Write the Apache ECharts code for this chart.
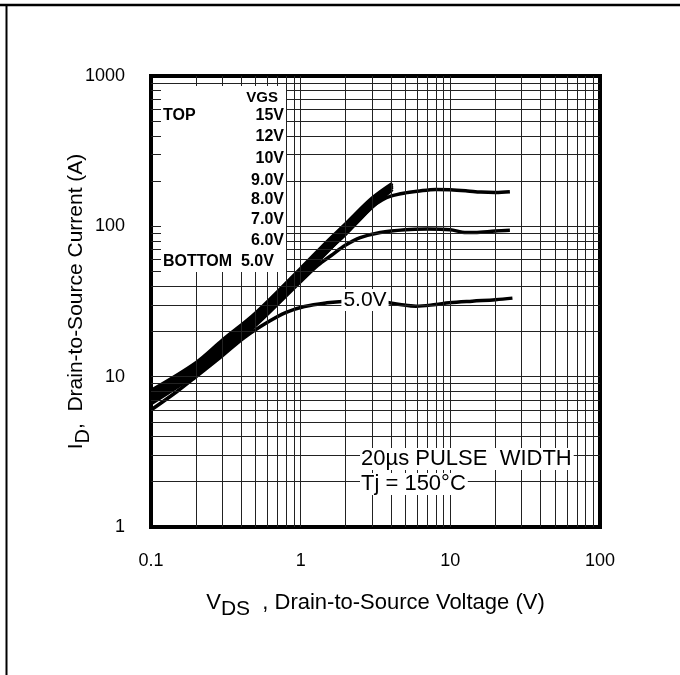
<!DOCTYPE html>
<html><head><meta charset="utf-8">
<script src="https://cdn.jsdelivr.net/npm/echarts@6/dist/echarts.min.js"></script>
<style>html,body{margin:0;padding:0;background:#fff}#c{width:680px;height:675px}</style>
</head><body><div id="c"></div>
<script>
const FONT = '"Liberation Sans", Arial, Helvetica, sans-serif';

// tick labels
const xTickLabels = ['0.1', '1', '10', '100'];
const yTickLabels = ['1', '10', '100', '1000'];

// grid lines (1-2-...-9 per decade)
const gridX = [0.2,0.3,0.4,0.5,0.6,0.7,0.8,0.9,1,2,3,4,5,6,7,8,9,10,20,30,40,50,60,70,80,90];
const gridY = [2,3,4,5,6,7,8,9,10,20,30,40,50,60,70,80,90,100,200,300,400,500,600,700,800,900];

// VGS = 15V ... 8V (the merged thick bundle)
const vdsBunch = [0.1, 0.2, 0.3, 0.5, 1, 1.5, 2, 3, 4.1];
const id15V = [8.1, 12.4, 17.5, 26.5, 52.5, 79, 104, 154, 193];
const id12V = [7.8, 11.9, 16.8, 25.4, 50.5, 76, 100, 148, 189];
const id10V = [7.5, 11.5, 16.2, 24.5, 49, 73, 97, 144, 186];
const id9V  = [7.25, 11.1, 15.7, 23.7, 47, 70, 94, 139, 182];
const id8V  = [7.0, 10.7, 15.1, 22.8, 45, 67.5, 90, 134, 176];

// VGS = 7V
const vds7V = [0.1, 0.2, 0.3, 0.5, 1, 1.5, 2, 2.5, 3, 3.5, 4, 5, 6, 8, 10, 13, 16, 20, 25];
const id7V  = [6.9, 10.6, 15.0, 22.6, 45, 68, 89, 112, 135, 150, 159, 167, 171, 176, 175, 172, 169, 168, 170];

// VGS = 6V
const vds6V = [0.1, 0.2, 0.3, 0.5, 1, 1.3, 1.6, 2, 2.5, 3.4, 5, 7, 10, 12, 14.5, 20, 25];
const id6V  = [6.6, 10.4, 14.5, 22, 43, 55, 64, 75, 84, 91, 95, 96, 95, 91.5, 91, 93, 94];

// VGS = 5V
const vds5V = [0.1, 0.15, 0.2, 0.3, 0.42, 0.6, 0.8, 1.06, 1.5, 2, 2.7, 3.5, 4.6, 5.9, 8, 9.8, 14, 20, 26];
const id5V  = [6.0, 8.0, 10.0, 13.8, 18.2, 23, 26.8, 29.3, 31, 31.8, 32, 31.5, 30.2, 29.4, 30.2, 31, 31.8, 32.5, 33.3];

const legendTitle = 'VGS';
const legendLabels = ['15V', '12V', '10V', '9.0V', '8.0V', '7.0V', '6.0V'];
const legendBottom = 'BOTTOM  5.0V';
const curveLabel = '5.0V';
const noteLines = ['20\u00b5s PULSE  WIDTH', 'Tj = 150\u00b0C'];

const zip = (xs, ys) => xs.map((x, i) => [x, ys[i]]);

const chart = echarts.init(document.getElementById('c'), null, {renderer: 'canvas'});

const G = {left: 151, top: 76, width: 449, height: 451};

function curve(name, xs, ys, extra) {
  return Object.assign({
    name, type: 'line', data: zip(xs, ys), showSymbol: false, smooth: 0.35,
    lineStyle: {color: '#000', width: 3.5}, itemStyle: {color: '#000'},
    z: 3, silent: true, animation: false
  }, extra || {});
}

const lblFmt = (labels) => (v) => {
  const s = String(+Number(v).toPrecision(3));
  return labels.includes(s) ? s : '';
};

const legendRowY = [116, 137, 159, 181, 200, 220, 241];
const graphics = [
  {type: 'line', shape: {x1: 0, y1: 5, x2: 680, y2: 5}, style: {stroke: '#000', lineWidth: 2.5}, z: 100},
  {type: 'line', shape: {x1: 6.5, y1: 5, x2: 6.5, y2: 675}, style: {stroke: '#000', lineWidth: 2}, z: 100},
  {type: 'rect', shape: {x: 161, y: 86, width: 125, height: 186}, style: {fill: '#fff'}, z: 50},
  {type: 'text', style: {text: legendTitle, x: 278, y: 98, align: 'right', verticalAlign: 'middle', font: 'bold 15px ' + FONT, fill: '#000'}, z: 60},
  {type: 'text', style: {text: 'TOP', x: 163, y: 116, align: 'left', verticalAlign: 'middle', font: 'bold 16px ' + FONT, fill: '#000'}, z: 60},
  {type: 'text', style: {text: legendBottom, x: 163, y: 262, align: 'left', verticalAlign: 'middle', font: 'bold 16px ' + FONT, fill: '#000'}, z: 60}
];
legendLabels.forEach((t, i) => graphics.push({
  type: 'text', style: {text: t, x: 284, y: legendRowY[i], align: 'right', verticalAlign: 'middle', font: 'bold 16px ' + FONT, fill: '#000'}, z: 60
}));
noteLines.forEach((t, i) => graphics.push({
  type: 'text', style: {text: t, x: 360, y: 459 + i * 25, align: 'left', verticalAlign: 'middle', font: '22px ' + FONT, fill: '#000', backgroundColor: '#fff', padding: [0, 2, 0, 1]}, z: 60
}));

const option = {
  backgroundColor: '#fff',
  animation: false,
  grid: Object.assign({show: true, borderColor: '#000', borderWidth: 4, backgroundColor: 'transparent', containLabel: false}, G),
  xAxis: {
    type: 'log', logBase: 10, min: 0.1, max: 100, splitNumber: 3,
    axisLine: {show: false}, axisTick: {show: false}, splitLine: {show: false}, minorTick: {show: false},
    axisLabel: {show: true, margin: 25, color: '#000', fontSize: 18, fontFamily: FONT, formatter: lblFmt(xTickLabels), showMinLabel: true, showMaxLabel: true},
    name: '{a|V}{s|DS}{a|  , Drain-to-Source Voltage (V)}',
    nameLocation: 'middle', nameGap: 58, nameMoveOverlap: false,
    nameTextStyle: {color: '#000', fontFamily: FONT, fontSize: 22,
      rich: {a: {fontSize: 22, fontFamily: FONT, color: '#000'}, s: {fontSize: 21, fontFamily: FONT, color: '#000', padding: [14, 0, 0, 0]}}}
  },
  yAxis: {
    type: 'log', logBase: 10, min: 1, max: 1000, splitNumber: 3,
    axisLine: {show: false}, axisTick: {show: false}, splitLine: {show: false}, minorTick: {show: false},
    axisLabel: {show: true, margin: 26, color: '#000', fontSize: 18, fontFamily: FONT, formatter: lblFmt(yTickLabels), showMinLabel: true, showMaxLabel: true},
    name: '{a|I}{s|D}{a|,  Drain-to-Source Current (A)}',
    nameLocation: 'middle', nameGap: 58, nameRotate: 90, nameMoveOverlap: false,
    nameTextStyle: {color: '#000', fontFamily: FONT, fontSize: 21,
      rich: {a: {fontSize: 21, fontFamily: FONT, color: '#000'}, s: {fontSize: 20, fontFamily: FONT, color: '#000', padding: [14, 0, 0, 0]}}}
  },
  graphic: graphics,
  series: [
    {
      name: 'grid', type: 'line', data: [], z: 1, silent: true, animation: false,
      markLine: {
        silent: true, animation: false, symbol: ['none', 'none'], label: {show: false},
        lineStyle: {color: '#222', width: 1, type: 'solid'},
        emphasis: {disabled: true},
        data: gridX.map(v => ({xAxis: v})).concat(gridY.map(v => ({yAxis: v})))
      }
    },
    curve('15V', vdsBunch, id15V),
    curve('12V', vdsBunch, id12V),
    curve('10V', vdsBunch, id10V),
    curve('9.0V', vdsBunch, id9V),
    curve('8.0V', vdsBunch, id8V),
    curve('7.0V', vds7V, id7V),
    curve('6.0V', vds6V, id6V),
    curve('5.0V', vds5V, id5V, {
      markPoint: {
        silent: true, animation: false, symbol: 'circle', symbolSize: 1,
        itemStyle: {color: 'rgba(0,0,0,0)'},
        label: {show: true, position: 'inside', formatter: curveLabel, fontSize: 21, fontFamily: FONT, color: '#000', backgroundColor: '#fff', padding: [1, 2, 0, 2]},
        data: [{coord: [2.69, 32.4]}]
      }
    })
  ]
};
chart.setOption(option);
</script>
</body></html>
